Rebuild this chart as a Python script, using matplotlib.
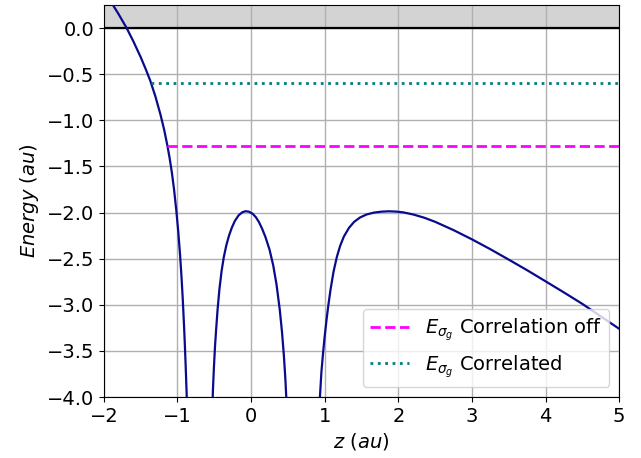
import matplotlib
matplotlib.use("Agg")
import matplotlib.pyplot as plt

# Potential curve (three branches separated by singularities)
z_left = [-1.95, -1.90, -1.80, -1.69, -1.60, -1.50, -1.43, -1.37, -1.30, -1.23,
          -1.18, -1.136, -1.105, -1.075, -1.045, -1.015, -0.99, -0.965, -0.945, -0.928,
          -0.91, -0.899, -0.888, -0.876, -0.868]
v_left = [0.34, 0.28, 0.152, 0.0, -0.142, -0.314, -0.447, -0.569, -0.74, -0.94,
          -1.105, -1.277, -1.416, -1.572, -1.758, -1.983, -2.20, -2.455, -2.70, -2.94,
          -3.24, -3.447, -3.673, -3.949, -4.15]

z_mid = [-0.53, -0.518, -0.505, -0.49, -0.475, -0.455, -0.43, -0.40, -0.37, -0.335,
         -0.30, -0.26, -0.22, -0.17, -0.12, -0.075, -0.03, 0.02, 0.065, 0.105,
         0.15, 0.195, 0.25, 0.30, 0.345, 0.39, 0.42, 0.445, 0.465, 0.48, 0.49]
v_mid = [-4.2, -3.92, -3.68, -3.45, -3.27, -3.05, -2.83, -2.63, -2.48, -2.35,
         -2.25, -2.16, -2.09, -2.03, -1.997, -1.985, -1.99, -2.012, -2.05, -2.10,
         -2.175, -2.265, -2.40, -2.57, -2.777, -3.056, -3.296, -3.546, -3.796, -4.036, -4.236]

z_right = [0.92, 0.935, 0.955, 0.98, 1.0, 1.025, 1.05, 1.08, 1.12, 1.165, 1.21, 1.26,
           1.33, 1.40, 1.48, 1.57, 1.67, 1.77, 1.87, 1.97, 2.07, 2.2, 2.35, 2.5, 2.75,
           3.0, 3.25, 3.5, 3.75, 4.0, 4.25, 4.5, 4.75, 5.0]
v_right = [-4.3, -4.0, -3.73, -3.5, -3.34, -3.16, -3.0, -2.83, -2.64, -2.48, -2.36, -2.26,
           -2.165, -2.10, -2.053, -2.02, -2.0, -1.99, -1.986, -1.989, -1.998, -2.02, -2.055, -2.10, -2.19,
           -2.29, -2.397, -2.51, -2.625, -2.745, -2.866, -2.99, -3.125, -3.26]

# Energy levels: value and start position
e_off = -1.28
e_off_start = -1.136
e_corr = -0.595
e_corr_start = -1.36

x_lim = (-2, 5)
y_lim = (-4.0, 0.25)
x_ticks = [-2, -1, 0, 1, 2, 3, 4, 5]
y_ticks = [0.0, -0.5, -1.0, -1.5, -2.0, -2.5, -3.0, -3.5, -4.0]

fig = plt.figure(figsize=(6.41, 4.58), dpi=100)
ax = fig.add_axes([0.162, 0.133, 0.804, 0.856])

ax.axhspan(0, y_lim[1], color='lightgrey', zorder=0)
ax.axhline(0, color='black', lw=1.6, zorder=2)

curve_color = '#0a0a8c'
ax.plot(z_left, v_left, color=curve_color, lw=1.6, zorder=3)
ax.plot(z_mid, v_mid, color=curve_color, lw=1.6, zorder=3)
ax.plot(z_right, v_right, color=curve_color, lw=1.6, zorder=3)

ax.plot([e_off_start, x_lim[1]], [e_off, e_off], color='magenta', ls='--', lw=2,
        label=r'$E_{\sigma_g}$ Correlation off', zorder=3)
ax.plot([e_corr_start, x_lim[1]], [e_corr, e_corr], color='teal', ls=':', lw=2,
        label=r'$E_{\sigma_g}$ Correlated', zorder=3)

ax.set_xlim(*x_lim)
ax.set_ylim(*y_lim)
ax.set_xticks(x_ticks)
ax.set_yticks(y_ticks)
ax.tick_params(labelsize=14)
ax.grid(True, color='#b0b0b0', lw=1)
ax.set_axisbelow(True)
ax.set_xlabel(r'$z\ (au)$', fontsize=14)
ax.set_ylabel(r'$Energy\ (au)$', fontsize=14)
ax.legend(loc='lower right', fontsize=14)

fig.savefig('out.png', dpi=100)
